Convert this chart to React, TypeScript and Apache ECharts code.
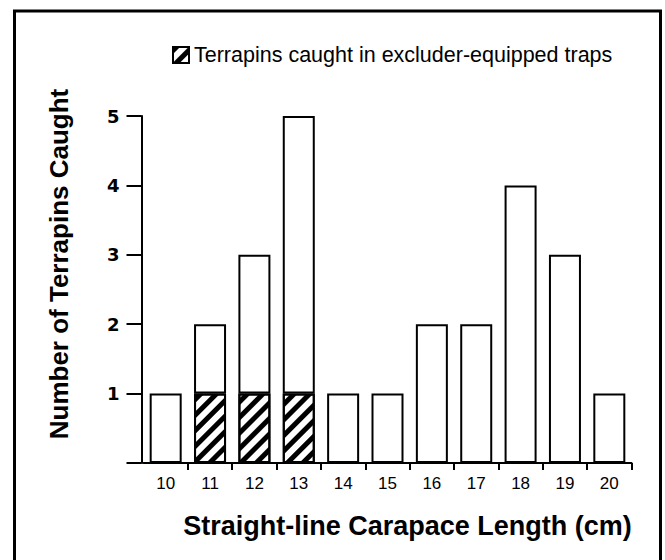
import React, { useEffect, useRef } from "react";
import * as echarts from "echarts";

const categories = ["10", "11", "12", "13", "14", "15", "16", "17", "18", "19", "20"];
const excluderCounts = [0, 1, 1, 1, 0, 0, 0, 0, 0, 0, 0];
const otherCounts = [1, 1, 2, 4, 1, 1, 2, 2, 4, 3, 1];
const yMin = 0;
const yMax = 5;
const yStep = 1;

const EXCLUDER = "Terrapins caught in excluder-equipped traps";
const OTHER = "Terrapins caught in other traps";
const FONT = "'Liberation Sans', Arial, Helvetica, sans-serif";

export default function App() {
  const ref = useRef<HTMLDivElement>(null);

  useEffect(() => {
    const chart = echarts.init(ref.current as HTMLDivElement, null, { renderer: "svg" });
    const hatch = {
      symbol: "rect",
      symbolSize: 1,
      dashArrayX: [1, 0],
      dashArrayY: [4.5, 5.5],
      rotation: -Math.PI / 4,
      color: "#000",
      backgroundColor: "#fff",
    };
    chart.setOption({
      animation: false,
      backgroundColor: "#fff",
      grid: { left: 143.5, right: 33.5, top: 116, bottom: 97, containLabel: false },
      legend: {
        data: [EXCLUDER],
        left: 172,
        top: 44,
        padding: 0,
        itemWidth: 16,
        itemHeight: 16,
        itemGap: 8,
        icon: "rect",
        selectedMode: false,
        textStyle: { fontFamily: FONT, fontSize: 21.5, color: "#000" },
      },
      xAxis: {
        type: "category",
        data: categories,
        boundaryGap: true,
        axisLine: { show: true, lineStyle: { color: "#000", width: 2 } },
        axisTick: {
          show: true,
          length: 7,
          interval: (i: number) => i !== 0,
          lineStyle: { color: "#000", width: 2 },
        },
        axisLabel: { color: "#000", fontFamily: FONT, fontSize: 17, margin: 12, interval: 0 },
        name: "Straight-line Carapace Length (cm)",
        nameLocation: "middle",
        nameGap: 49,
        nameTextStyle: {
          fontFamily: FONT,
          fontSize: 27,
          fontWeight: "bold",
          color: "#000",
          padding: [0, 0, 0, 40],
        },
      },
      yAxis: {
        type: "value",
        min: yMin,
        max: yMax,
        interval: yStep,
        offset: 2,
        axisLine: { show: true, lineStyle: { color: "#000", width: 2 } },
        axisTick: { show: true, length: 15, lineStyle: { color: "#000", width: 2 } },
        splitLine: { show: false },
        axisLabel: {
          color: "#000",
          fontFamily: "'DejaVu Sans', Verdana, sans-serif",
          fontWeight: "bold",
          fontSize: 18,
          margin: 22,
          formatter: (v: number) => (v === 0 ? "" : String(v)),
        },
        name: "Number of Terrapins Caught",
        nameLocation: "middle",
        nameGap: 70,
        nameTextStyle: {
          fontFamily: FONT,
          fontSize: 26,
          fontWeight: "bold",
          color: "#000",
          padding: [0, 0, 0, 51],
        },
      },
      graphic: [
        {
          type: "rect",
          silent: true,
          shape: { x: 14.5, y: 11, width: 646, height: 600 },
          style: { fill: "none", stroke: "#000", lineWidth: 3 },
        },
      ],
      series: [
        {
          name: EXCLUDER,
          type: "bar",
          stack: "total",
          barWidth: 32,
          data: excluderCounts.map((v) => (v === 0 ? "-" : v)),
          itemStyle: { color: "#fff", borderColor: "#000", borderWidth: 2, decal: hatch },
        },
        {
          name: OTHER,
          type: "bar",
          stack: "total",
          barWidth: 32,
          data: otherCounts,
          itemStyle: { color: "#fff", borderColor: "#000", borderWidth: 2 },
        },
      ],
    });
    return () => chart.dispose();
  }, []);

  return (
    <div
      ref={ref}
      style={{ position: "fixed", left: 0, top: 0, width: 665, height: 560, background: "#fff" }}
    />
  );
}
